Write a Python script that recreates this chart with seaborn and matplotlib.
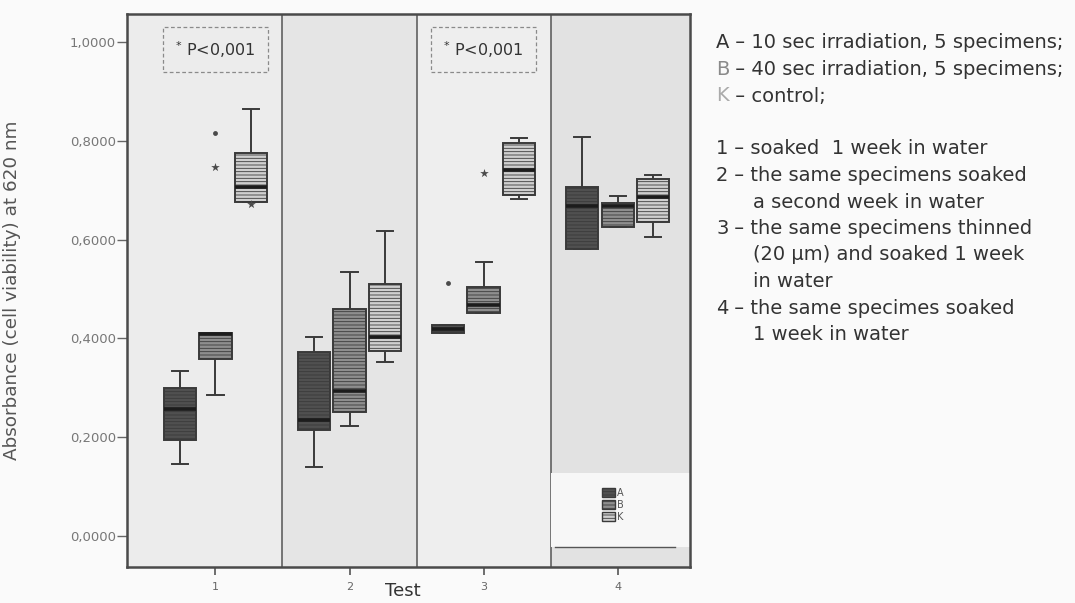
import numpy as np
import pandas as pd
import matplotlib
matplotlib.use('Agg')
import matplotlib.pyplot as plt
from matplotlib.colors import to_hex
from matplotlib.patches import Patch
import seaborn as sns

tests = ['1', '2', '3', '4']
groups = ['A', 'B', 'K']
# five values per box: min, q1, median, q3, max
group_A = [[0.146, 0.194, 0.257, 0.300, 0.334],
           [0.140, 0.215, 0.235, 0.373, 0.403],
           [0.411, 0.411, 0.419, 0.427, 0.427],
           [0.581, 0.581, 0.668, 0.707, 0.808]]
group_B = [[0.285, 0.358, 0.409, 0.411, 0.411],
           [0.223, 0.251, 0.294, 0.459, 0.535],
           [0.451, 0.451, 0.468, 0.504, 0.555],
           [0.626, 0.626, 0.668, 0.674, 0.688]]
group_K = [[0.676, 0.676, 0.707, 0.775, 0.864],
           [0.352, 0.375, 0.403, 0.510, 0.618],
           [0.682, 0.690, 0.741, 0.796, 0.806],
           [0.606, 0.636, 0.686, 0.723, 0.731]]
# outliers (o) and extremes (*)
out_test = ['1', '1', '1', '3', '3']
out_group = ['B', 'B', 'K', 'A', 'B']
out_value = [0.815, 0.747, 0.672, 0.512, 0.735]
out_marker = ['o', '*', '*', 'o', '*']
yticks = [0.0, 0.2, 0.4, 0.6, 0.8, 1.0]

box_colors = {'A': '#505050', 'B': '#8e8e8e', 'K': '#cfcfcf'}
hatch_colors = {'A': '#2c2c2c', 'B': '#666666', 'K': '#a4a4a4'}
letter_colors = {'A': '#333333', 'B': '#8a8a8a', 'K': '#aaaaaa'}

rows = []
for g, vals in zip(groups, [group_A, group_B, group_K]):
    for t, v in zip(tests, vals):
        for x in v:
            rows.append((t, g, x))
df = pd.DataFrame(rows, columns=['Test', 'Group', 'Absorbance'])
odf = pd.DataFrame({'Test': out_test, 'Group': out_group,
                    'Absorbance': out_value, 'Marker': out_marker})

plt.rcParams['hatch.linewidth'] = 0.6
fig = plt.figure(figsize=(10.75, 6.03), dpi=100, facecolor='#fafafa')
ax = fig.add_axes([127/1075, 1 - 567/603, 563/1075, 553/603])
ax.set_facecolor('#e9e9e9')

xmin, xmax = -0.66, 3.54
panel_shades = ['#ececec', '#e5e5e5', '#eeeeee', '#e2e2e2']
edges = [xmin, 0.5, 1.5, 2.5, xmax]
for i, c in enumerate(panel_shades):
    ax.axvspan(edges[i], edges[i + 1], color=c, zorder=0, lw=0)
for e in edges[1:-1]:
    ax.axvline(e, color='#555555', lw=1.1, zorder=1)

sns.boxplot(data=df, x='Test', y='Absorbance', hue='Group', order=tests,
            hue_order=groups, palette=box_colors, saturation=1, whis=np.inf,
            width=0.8, gap=0.1, linecolor='#3a3a3a', linewidth=1.4,
            medianprops=dict(color='#1c1c1c', linewidth=2.6),
            legend=False, ax=ax)

face_to_group = {to_hex(c): g for g, c in box_colors.items()}
for p in ax.patches:
    g = face_to_group.get(to_hex(p.get_facecolor()))
    if g is None:
        continue
    p.set_hatch('-----')
    if hasattr(p, 'set_hatchcolor'):
        p.set_hatchcolor(hatch_colors[g])

for m, s in [('o', 3.5), ('*', 6.5)]:
    sub = odf[odf['Marker'] == m]
    sns.stripplot(data=sub, x='Test', y='Absorbance', hue='Group', order=tests,
                  hue_order=groups, dodge=True, jitter=False, marker=m, size=s,
                  palette={g: '#4a4a4a' for g in groups}, linewidth=0,
                  legend=False, ax=ax, zorder=5)

# significance notes
for t in [0, 2]:
    ax.text(t, 0.985, r'$^{*}$ P<0,001', ha='center', va='center', fontsize=11.5,
            color='#333333', zorder=6,
            bbox=dict(boxstyle='square,pad=0.75', fc='none', ec='#8a8a8a',
                      ls=(0, (3, 2)), lw=0.9))

# legend patch in panel 4
ax.axvspan(2.5, xmax, ymin=(-0.022 + 0.063) / 1.12, ymax=(0.128 + 0.063) / 1.12,
           color='#f7f7f7', zorder=1, lw=0)
ax.axhline(-0.022, xmin=(2.53 - xmin) / (xmax - xmin), xmax=(3.43 - xmin) / (xmax - xmin),
           color='#555555', lw=1.0, zorder=2)
handles = [Patch(facecolor=box_colors[g], edgecolor='#3a3a3a', hatch='-----', label=g)
           for g in groups]
leg = ax.legend(handles=handles, loc='upper left', bbox_to_anchor=(0.835, 0.152),
                frameon=False, fontsize=7, handlelength=1.3, handleheight=1.1,
                labelspacing=0.2, handletextpad=0.2, borderpad=0)
for txt in leg.get_texts():
    txt.set_color('#555555')

ax.set_xlim(xmin, xmax)
ax.set_ylim(-0.063, 1.057)
ax.set_yticks(yticks)
ax.set_yticklabels([f'{v:.4f}'.replace('.', ',') for v in yticks])
ax.tick_params(axis='y', length=7, width=1, color='#666666', labelcolor='#777777',
               labelsize=9.5, pad=1)
ax.tick_params(axis='x', length=6, width=1.2, color='#555555', labelcolor='#666666',
               labelsize=8, pad=5)
for sp in ax.spines.values():
    sp.set_color('#4a4a4a')
    sp.set_linewidth(1.8)
ax.set_ylabel('Absorbance (cell viability) at 620 nm', fontsize=13.2, color='#555555')
ax.yaxis.set_label_coords(-0.188, 0.5)
ax.set_xlabel('Test', fontsize=13, color='#333333')
ax.xaxis.set_label_coords(0.49, -0.028)

# explanation text on the right
notes = [('A', ' – 10 sec irradiation, 5 specimens;', False),
         ('B', ' – 40 sec irradiation, 5 specimens;', False),
         ('K', ' – control;', False),
         None,
         ('1', ' – soaked  1 week in water', False),
         ('2', ' – the same specimens soaked', False),
         ('', 'a second week in water', True),
         ('3', ' – the same specimens thinned', False),
         ('', '(20 µm) and soaked 1 week', True),
         ('', 'in water', True),
         ('4', ' – the same specimes soaked', False),
         ('', '1 week in water', True)]
fs = 14
y0, step = 43, 26.5
for i, item in enumerate(notes):
    if item is None:
        continue
    head, rest, indent = item
    yf = 1 - (y0 + i * step) / 603
    if indent:
        fig.text(753 / 1075, yf, rest, ha='left', va='center', fontsize=fs,
                 color='#333333')
        continue
    lt = fig.text(716 / 1075, yf, head, ha='left', va='center', fontsize=fs,
                  color=letter_colors.get(head, '#333333'))
    ax.annotate(rest, xy=(1, 0.5), xycoords=lt, ha='left', va='center',
                fontsize=fs, color='#333333', annotation_clip=False)

fig.savefig('out.png', dpi=100, facecolor=fig.get_facecolor())
